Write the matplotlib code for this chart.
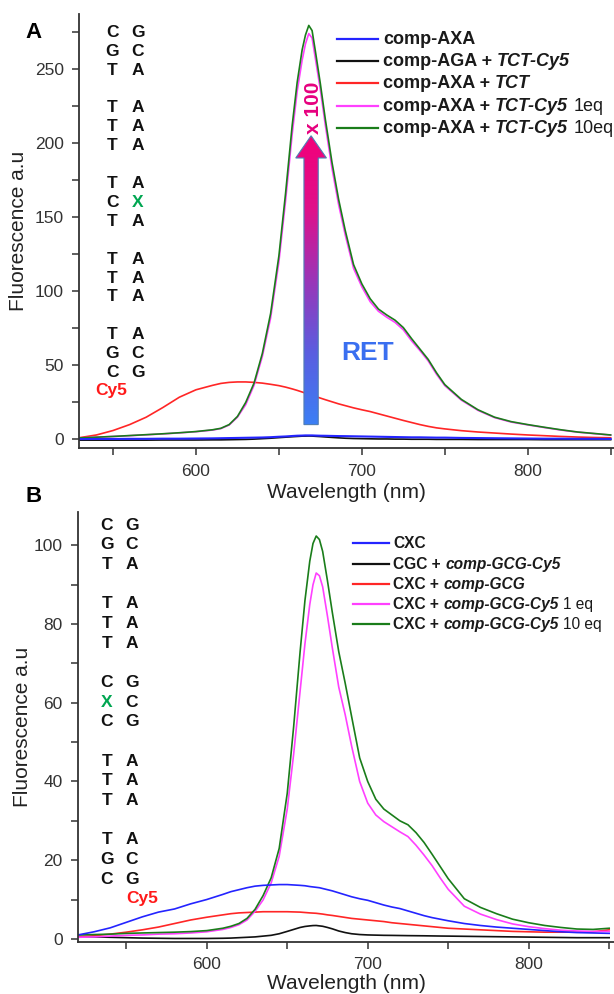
import numpy as np
import matplotlib
matplotlib.use('Agg')
import matplotlib.pyplot as plt
from matplotlib.lines import Line2D
from matplotlib.patches import FancyArrow
from matplotlib.colors import LinearSegmentedColormap

plt.rcParams['font.family'] = ['Liberation Sans', 'DejaVu Sans']

# ---------------- panel A data ----------------
wl_a = [530, 540, 550, 560, 570, 580, 590, 600,
        610, 615, 620, 625, 630, 635, 640, 645, 650,
        654, 658, 661, 664, 666, 668, 670, 672, 675, 678, 682, 686, 690,
        695, 700, 705, 710, 715, 720, 725, 730, 735, 740, 745, 750,
        760, 770, 780, 790, 800, 810, 820, 830, 840, 850]
a_blue = [0.2, 0.3, 0.3, 0.4, 0.4, 0.5, 0.5, 0.6,
          0.7, 0.8, 0.9, 1.0, 1.1, 1.2, 1.3, 1.5, 1.8,
          2.0, 2.3, 2.5, 2.6, 2.7, 2.7, 2.7, 2.6, 2.5, 2.45, 2.35, 2.25, 2.2,
          2.1, 2.0, 1.9, 1.8, 1.7, 1.6, 1.5, 1.4, 1.4, 1.3, 1.2, 1.2,
          1.0, 0.9, 0.8, 0.7, 0.6, 0.5, 0.5, 0.4, 0.4, 0.3]
a_black = [-0.5, -0.5, -0.5, -0.5, -0.5, -0.4, -0.4, -0.4,
           -0.3, -0.3, -0.2, -0.1, 0.0, 0.2, 0.5, 0.8, 1.2,
           1.5, 1.8, 2.0, 2.2, 2.25, 2.3, 2.25, 2.1, 1.9, 1.65, 1.35, 1.05, 0.8,
           0.6, 0.5, 0.4, 0.3, 0.3, 0.2, 0.2, 0.1, 0.1, 0.1, 0.0, 0.0,
           0.0, -0.1, -0.1, -0.1, -0.1, -0.2, -0.2, -0.2, -0.2, -0.2]
a_red = [1.2, 3.0, 6.0, 10.0, 15.0, 21.5, 28.5, 33.5,
         36.5, 37.8, 38.5, 38.8, 38.8, 38.5, 38.0, 37.2, 36.3,
         35.3, 34.1, 33.1, 32.0, 31.3, 30.5, 29.8, 29.0, 27.9, 26.8, 25.4, 24.0, 22.8,
         21.3, 20.0, 18.8, 17.3, 15.8, 14.3, 12.8, 11.4, 10.0, 8.8, 7.8, 7.1,
         5.9, 5.0, 4.3, 3.6, 3.0, 2.5, 2.0, 1.6, 1.3, 1.1]
a_pink = [1.0, 1.5, 2.0, 2.5, 3.1, 3.7, 4.4, 5.2,
          6.3, 7.3, 9.7, 15, 23.5, 36.5, 56, 82, 120,
          161, 206, 235, 256, 267, 274, 271, 257, 236, 212, 183, 158.5, 138,
          115.5, 103, 93, 86.5, 82.5, 79, 74, 66.5, 60, 53, 44, 36.3,
          26.5, 19.6, 14.7, 11.7, 9.8, 8.0, 6.3, 4.9, 3.9, 2.9]
a_green = [1.0, 1.5, 2.0, 2.6, 3.2, 3.8, 4.5, 5.3,
           6.5, 7.5, 10, 15.5, 25, 38, 58, 85, 124,
           166, 212, 241, 263, 273, 279.5, 276, 262, 240, 216, 187, 162, 141,
           118, 105, 95, 88, 84, 80.5, 75.5, 68, 61, 54, 45, 37,
           27, 20, 15, 12, 10, 8.2, 6.5, 5.0, 4.0, 3.0]

# ---------------- panel B data ----------------
wl_b = [520, 530, 540, 550, 560, 570, 580, 590, 600,
        610, 615, 620, 625, 630, 635, 640, 645, 650,
        654, 658, 661, 664, 666, 668, 670, 672, 675, 678, 682, 686, 690,
        695, 700, 705, 710, 715, 720, 725, 730, 735, 740, 745, 750,
        760, 770, 780, 790, 800, 810, 820, 830, 840, 850]
b_blue = [1.0, 1.8, 2.8, 4.2, 5.6, 6.8, 7.6, 8.9, 10.0,
          11.3, 12.0, 12.5, 13.0, 13.4, 13.6, 13.7, 13.8, 13.8,
          13.7, 13.6, 13.5, 13.3, 13.2, 13.1, 13.0, 12.8, 12.5, 12.2, 11.7, 11.2, 10.7,
          10.2, 9.8, 9.2, 8.6, 8.1, 7.7, 7.1, 6.5, 5.9, 5.4, 5.0, 4.6,
          3.9, 3.4, 3.0, 2.7, 2.4, 2.1, 1.8, 1.6, 1.5, 1.4]
b_black = [0.6, 0.5, 0.4, 0.3, 0.2, 0.15, 0.1, 0.1, 0.1,
           0.15, 0.2, 0.3, 0.4, 0.5, 0.7, 0.9, 1.3, 1.9,
           2.4, 2.9, 3.15, 3.3, 3.38, 3.4, 3.3, 3.2, 2.9, 2.55, 2.0, 1.6, 1.3,
           1.1, 1.0, 0.95, 0.9, 0.88, 0.85, 0.82, 0.8, 0.78, 0.75, 0.72, 0.7,
           0.65, 0.6, 0.55, 0.5, 0.45, 0.4, 0.35, 0.3, 0.3, 0.3]
b_red = [0.5, 0.8, 1.2, 1.7, 2.3, 3.0, 3.9, 4.8, 5.5,
         6.1, 6.4, 6.6, 6.7, 6.8, 6.9, 6.9, 6.9, 6.9,
         6.85, 6.8, 6.7, 6.6, 6.55, 6.5, 6.4, 6.3, 6.1, 5.95, 5.7, 5.45, 5.2,
         5.0, 4.8, 4.6, 4.4, 4.1, 3.9, 3.7, 3.5, 3.3, 3.1, 2.9, 2.7,
         2.5, 2.3, 2.1, 1.9, 1.8, 1.7, 1.7, 1.7, 1.8, 2.3]
b_pink = [0.4, 0.5, 0.7, 0.9, 1.0, 1.2, 1.3, 1.5, 1.8,
          2.4, 2.9, 3.6, 4.8, 7.0, 9.9, 14.2, 21, 33,
          47, 63, 75, 85, 90, 93, 92.3, 89.5, 82, 74, 64, 57, 49,
          40, 34.5, 31.5, 29.8, 28.5, 27.2, 26, 23.8, 21.3, 18.6, 15.5, 12.6,
          8.3, 6.3, 4.9, 3.8, 3.1, 2.6, 2.2, 2.0, 1.9, 1.9]
b_green = [1.0, 1.1, 1.2, 1.4, 1.5, 1.6, 1.7, 1.85, 2.1,
           2.7, 3.2, 3.9, 5.2, 7.5, 11.0, 15.5, 23, 37,
           54, 73, 86, 96, 100.5, 102.4, 101.5, 98.5, 91, 83, 73, 65, 56.5,
           46, 40, 35.5, 33, 31.5, 30, 29, 27, 24.5, 21.5, 18.4, 15.3,
           10.2, 8.0, 6.4, 5.0, 4.1, 3.4, 2.9, 2.5, 2.4, 2.7]

colors = {'blue': '#2424ff', 'black': '#111111', 'red': '#ff2626',
          'pink': '#ff40ff', 'green': '#1a7d1a'}

legend_a = [[("comp-AXA", 'B')],
            [("comp-AGA +", 'B'), ("TCT-Cy5", 'BI')],
            [("comp-AXA +", 'B'), ("TCT", 'BI')],
            [("comp-AXA +", 'B'), ("TCT-Cy5", 'BI'), ("1eq", 'N')],
            [("comp-AXA +", 'B'), ("TCT-Cy5", 'BI'), ("10eq", 'N')]]
legend_b = [[("CXC", 'B')],
            [("CGC +", 'B'), ("comp-GCG-Cy5", 'BI')],
            [("CXC +", 'B'), ("comp-GCG", 'BI')],
            [("CXC +", 'B'), ("comp-GCG-Cy5", 'BI'), ("1 eq", 'N')],
            [("CXC +", 'B'), ("comp-GCG-Cy5", 'BI'), ("10 eq", 'N')]]

seq_a_left = list("CGTTTTTCTTTTTGC")
seq_a_right = list("GCAAAAAXAAAAACG")
seq_b_left = list("CGTTTTCXCTTTTGC")
seq_b_right = list("GCAAAAGCGAAAACG")

STYLES = {'B': dict(fontweight='bold'),
          'BI': dict(fontweight='bold', fontstyle='italic'),
          'N': dict(fontweight='normal')}


def rich_label(ax, x, y, parts, size):
    s, st = parts[0]
    t = ax.text(x, y, s, transform=ax.transAxes, fontsize=size, va='center',
                ha='left', color='#1a1a1a', **STYLES[st])
    for s, st in parts[1:]:
        t = ax.annotate(s, xy=(1, 0), xycoords=t, xytext=(size * 0.28, 0),
                        textcoords='offset points', va='bottom', ha='left',
                        fontsize=size, color='#1a1a1a', **STYLES[st])


def draw_legend(ax, entries, keys, x0, x1, xt, ys, size):
    for parts, key, y in zip(entries, keys, ys):
        ax.add_line(Line2D([x0, x1], [y, y], transform=ax.transAxes,
                           color=colors[key], lw=1.6))
        rich_label(ax, xt, y, parts, size)


def draw_seq(ax, left, right, xl, xr, ytop, step, size=12.5):
    for i, (a, b) in enumerate(zip(left, right)):
        y = ytop - step * (i + i // 3)
        for ch, x in ((a, xl), (b, xr)):
            ax.text(x, y, ch, transform=ax.transAxes, ha='center', va='center',
                    fontsize=size, fontweight='bold',
                    color='#00a651' if ch == 'X' else '#111111')


def style_axes(ax, xlim, ylim, ymaj, ymin):
    ax.set_xlim(*xlim)
    ax.set_ylim(*ylim)
    ax.set_xticks([600, 700, 800])
    ax.set_xticks([550, 650, 750, 850], minor=True)
    ax.set_yticks(ymaj)
    ax.set_yticks(ymin, minor=True)
    for side in ('top', 'right'):
        ax.spines[side].set_visible(False)
    for side in ('left', 'bottom'):
        ax.spines[side].set_linewidth(1.3)
        ax.spines[side].set_color('#333333')
    ax.tick_params(which='both', direction='out', width=1.1, color='#333333',
                   labelsize=12.5, labelcolor='#333333', pad=6)
    ax.tick_params(which='major', length=5)
    ax.tick_params(which='minor', length=5)
    ax.set_xlabel('Wavelength (nm)', fontsize=15, color='#222222', labelpad=3)
    ax.set_ylabel('Fluorescence a.u', fontsize=15, color='#222222', labelpad=5)


fig = plt.figure(figsize=(6.14, 9.94), dpi=100)

# ---------------- panel A ----------------
axA = fig.add_axes([0.1287, 0.549, 0.8713, 0.4366])
axA.plot(wl_a, a_black, color=colors['black'], lw=1.2)
axA.plot(wl_a, a_red, color=colors['red'], lw=1.2)
axA.plot(wl_a, a_pink, color=colors['pink'], lw=1.2)
axA.plot(wl_a, a_green, color=colors['green'], lw=1.2)
axA.plot(wl_a, a_blue, color=colors['blue'], lw=1.5)
style_axes(axA, (529.5, 852), (-6, 287), np.arange(0, 251, 50), np.arange(25, 276, 50))

# gradient arrow (RET x100)
arrow = FancyArrow(669.4, 10, 0, 195, width=8.6, head_width=18.5, head_length=15,
                   length_includes_head=True, facecolor='none', edgecolor='#4f7db5',
                   lw=0.8, zorder=6)
axA.add_patch(arrow)
cmap = LinearSegmentedColormap.from_list('ret', ['#3b7ff5', '#5a5ee0', '#9a36b8', '#e0108a', '#f2007a'])
grad = np.linspace(0, 1, 256).reshape(-1, 1)
im = axA.imshow(grad, extent=[658, 681, 10, 205], origin='lower', cmap=cmap,
                aspect='auto', zorder=5)
im.set_clip_path(arrow)
axA.set_xlim(529.5, 852)
axA.set_ylim(-6, 287)
axA.text(670.7, 224, 'x 100', rotation=90, color='#e6007e', fontweight='bold',
         fontsize=15, ha='center', va='center')
axA.text(703.6, 58.4, 'RET', color='#3a6ff0', fontweight='bold', fontsize=19,
         ha='center', va='center')

draw_seq(axA, seq_a_left, seq_a_right, 0.0617, 0.110, (448 - 32) / 434, 18.9 / 434)
axA.text(0.060, (448 - 390) / 434, 'Cy5', transform=axA.transAxes, ha='center', va='center',
         fontsize=12.5, fontweight='bold', color='#ff1a1a')
draw_legend(axA, legend_a, ['blue', 'black', 'red', 'pink', 'green'],
            0.482, 0.559, 0.568, [(448 - y) / 434 for y in (39, 61, 83, 106, 128)], 13)

# ---------------- panel B ----------------
axB = fig.add_axes([0.127, 0.0523, 0.873, 0.4326])
axB.plot(wl_b, b_black, color=colors['black'], lw=1.2)
axB.plot(wl_b, b_red, color=colors['red'], lw=1.2)
axB.plot(wl_b, b_pink, color=colors['pink'], lw=1.2)
axB.plot(wl_b, b_green, color=colors['green'], lw=1.2)
axB.plot(wl_b, b_blue, color=colors['blue'], lw=1.2)
style_axes(axB, (520, 853), (-0.8, 108.5), np.arange(0, 101, 20), np.arange(10, 101, 20))
axB.yaxis.labelpad = 1
axB.xaxis.labelpad = 1

draw_seq(axB, seq_b_left, seq_b_right, 0.054, 0.1007, (942 - 525) / 430, 19.67 / 430)
axB.text(0.119, (942 - 898) / 430, 'Cy5', transform=axB.transAxes, ha='center', va='center',
         fontsize=12.5, fontweight='bold', color='#ff1a1a')
draw_legend(axB, legend_b, ['blue', 'black', 'red', 'pink', 'green'],
            0.513, 0.580, 0.588, [(942 - y) / 430 for y in (543, 564, 584, 604, 624)], 11.2)

fig.text(34 / 614, 1 - 33 / 994, 'A', fontsize=16, fontweight='bold', ha='center', va='center')
fig.text(34 / 614, 1 - 497 / 994, 'B', fontsize=16, fontweight='bold', ha='center', va='center')

fig.savefig('out.png', dpi=100)
